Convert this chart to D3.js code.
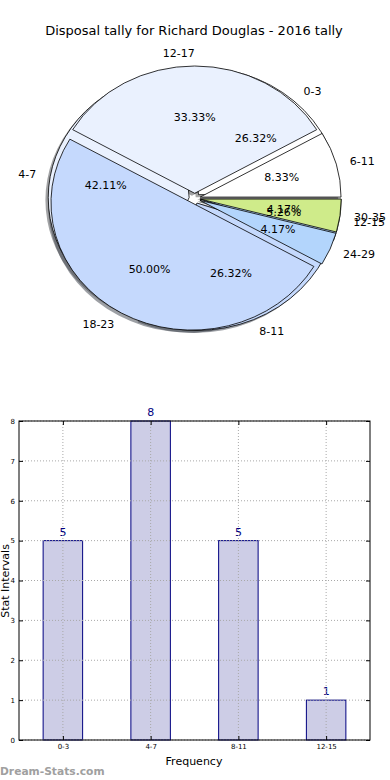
<!DOCTYPE html>
<html>
<head>
<meta charset="utf-8">
<script src="https://cdn.jsdelivr.net/npm/d3@7"></script>
<style>
  html, body { margin: 0; padding: 0; background: #fff; }
  svg { display: block; }
  text { font-family: 'DejaVu Sans', Arial, sans-serif; }
</style>
</head>
<body>
<div id="chart"></div>
<script>
// ── Data
const titleText = 'Disposal tally for Richard Douglas - 2016 tally';

// pie drawn first (same tally as the bars)
const pieLabelsA = ['0-3', '4-7', '8-11', '12-15'];
const pieValuesA = [5, 8, 5, 1];
const pieColorsA = ['#ffffff', '#eaf1fe', '#c5d9fd', '#b3d5fc'];

// pie drawn on top
const pieLabelsB = ['6-11', '12-17', '18-23', '24-29', '30-35'];
const pieValuesB = [2, 8, 12, 1, 1];
const pieColorsB = ['#ffffff', '#eaf1fe', '#c5d9fd', '#b3d5fc', '#cfeb8a'];

const barCats   = ['0-3', '4-7', '8-11', '12-15'];
const barValues = [5, 8, 5, 1];
const yTicks    = [0, 1, 2, 3, 4, 5, 6, 7, 8];

// ── Layout
const W = 390, H = 780;
const CX = 194.7, CY = 198.4, RX = 140.9, RY = 127.3;
const EXPLODE = 0.04;
const PCT_DIST = 0.6, LABEL_DIST = 1.1;
const BAR = { left: 19, right: 370, top: 421, bottom: 740 };

const svg = d3.select('#chart').append('svg')
  .attr('width', W).attr('height', H);

// title
svg.append('text')
  .attr('x', 194).attr('y', 35)
  .attr('text-anchor', 'middle')
  .attr('font-size', '13px')
  .attr('fill', '#000')
  .text(titleText);

// ── Pie helpers (matplotlib style: start at 3 o'clock, counter-clockwise)
const R = 100;
const arcGen = d3.arc().innerRadius(0).outerRadius(R);
const pieGen = d3.pie().sort(null).startAngle(Math.PI / 2).endAngle(Math.PI / 2 - 2 * Math.PI);

function wedgeInfo(values) {
  return pieGen(values).map(d => {
    const mid = (d.startAngle + d.endAngle) / 2;
    const ux = Math.sin(mid), uy = -Math.cos(mid);
    return { d, ux, uy, ox: CX + EXPLODE * RX * ux, oy: CY + EXPLODE * RY * uy };
  });
}

const wedgesA = wedgeInfo(pieValuesA);
const wedgesB = wedgeInfo(pieValuesB);

const pieG = svg.append('g');

function drawShadows(wedges, colors) {
  wedges.forEach((w, i) => {
    const c = d3.rgb(colors[i]);
    pieG.append('path')
      .attr('d', arcGen(w.d))
      .attr('transform', `translate(${w.ox - 0.02 * RX},${w.oy + 0.02 * RY}) scale(${RX / R},${RY / R})`)
      .attr('fill', d3.rgb(c.r * 0.3, c.g * 0.3, c.b * 0.3))
      .attr('fill-opacity', 0.5)
      .attr('stroke', 'none');
  });
}

function drawWedges(wedges, colors) {
  wedges.forEach((w, i) => {
    pieG.append('path')
      .attr('d', arcGen(w.d))
      .attr('transform', `translate(${w.ox},${w.oy}) scale(${RX / R},${RY / R})`)
      .attr('fill', colors[i])
      .attr('stroke', '#000')
      .attr('stroke-width', 0.8)
      .attr('vector-effect', 'non-scaling-stroke')
      .attr('stroke-linejoin', 'round');
  });
}

function drawTexts(wedges, labels, values) {
  const total = d3.sum(values);
  const fmt = d3.format('.2f');
  wedges.forEach((w, i) => {
    const lx = w.ox + LABEL_DIST * RX * w.ux;
    const ly = w.oy + LABEL_DIST * RY * w.uy;
    pieG.append('text')
      .attr('x', lx).attr('y', ly)
      .attr('dy', '0.35em')
      .attr('text-anchor', w.ux > 0.0001 ? 'start' : 'end')
      .attr('font-size', '11px')
      .attr('fill', '#000')
      .text(labels[i]);
    pieG.append('text')
      .attr('x', w.ox + PCT_DIST * RX * w.ux)
      .attr('y', w.oy + PCT_DIST * RY * w.uy)
      .attr('dy', '0.35em')
      .attr('text-anchor', 'middle')
      .attr('font-size', '11px')
      .attr('fill', '#000')
      .text(fmt(values[i] / total * 100) + '%');
  });
}

drawShadows(wedgesA, pieColorsA);
drawShadows(wedgesB, pieColorsB);
drawWedges(wedgesA, pieColorsA);
drawWedges(wedgesB, pieColorsB);
drawTexts(wedgesA, pieLabelsA, pieValuesA);
drawTexts(wedgesB, pieLabelsB, pieValuesB);

// ── Bar chart
const x = d3.scaleLinear().domain([-0.5, 3.5]).range([BAR.left, BAR.right]);
const y = d3.scaleLinear().domain([0, 8]).range([BAR.bottom, BAR.top]);
const barW = x(0.45) - x(0);

const barG = svg.append('g');

barG.selectAll('.bar')
  .data(barValues)
  .enter().append('rect')
  .attr('class', 'bar')
  .attr('x', (d, i) => x(i) - barW / 2)
  .attr('y', d => y(d))
  .attr('width', barW)
  .attr('height', d => y(0) - y(d))
  .attr('fill', '#cdcde6')
  .attr('stroke', '#000080')
  .attr('stroke-width', 1);

barG.selectAll('.val')
  .data(barValues)
  .enter().append('text')
  .attr('x', (d, i) => x(i))
  .attr('y', d => y(d) - 5)
  .attr('text-anchor', 'middle')
  .attr('font-size', '11px')
  .attr('fill', '#000080')
  .text(d => d);

// grid (drawn over the bars)
const gridG = barG.append('g')
  .attr('stroke', '#a8a8a8')
  .attr('stroke-width', 1)
  .attr('stroke-dasharray', '1,2');
yTicks.forEach(t => {
  gridG.append('line')
    .attr('x1', BAR.left).attr('x2', BAR.right)
    .attr('y1', y(t)).attr('y2', y(t));
});
barCats.forEach((c, i) => {
  gridG.append('line')
    .attr('x1', x(i)).attr('x2', x(i))
    .attr('y1', BAR.top).attr('y2', BAR.bottom);
});

// axes with inward ticks
const leftAxis = d3.axisLeft(y).tickValues(yTicks).tickSizeInner(-4).tickSizeOuter(0).tickPadding(4);
const rightAxis = d3.axisRight(y).tickValues(yTicks).tickSizeInner(-4).tickSizeOuter(0).tickFormat('');
const bottomAxis = d3.axisBottom(x).tickValues(d3.range(barCats.length))
  .tickFormat(i => barCats[i]).tickSizeInner(-4).tickSizeOuter(0).tickPadding(4);
const topAxis = d3.axisTop(x).tickValues(d3.range(barCats.length))
  .tickSizeInner(-4).tickSizeOuter(0).tickFormat('');

function styleAxis(g) {
  g.select('.domain').remove();
  g.selectAll('text').attr('font-family', "'DejaVu Sans', Arial, sans-serif").attr('font-size', '7px').attr('fill', '#000');
  g.selectAll('line').attr('stroke', '#000');
}

barG.append('g').attr('transform', `translate(${BAR.left},0)`).call(leftAxis).call(styleAxis);
barG.append('g').attr('transform', `translate(${BAR.right},0)`).call(rightAxis).call(styleAxis);
barG.append('g').attr('transform', `translate(0,${BAR.bottom})`).call(bottomAxis).call(styleAxis);
barG.append('g').attr('transform', `translate(0,${BAR.top})`).call(topAxis).call(styleAxis);

// frame
barG.append('rect')
  .attr('x', BAR.left).attr('y', BAR.top)
  .attr('width', BAR.right - BAR.left).attr('height', BAR.bottom - BAR.top)
  .attr('fill', 'none').attr('stroke', '#000').attr('stroke-width', 1);

// axis labels
svg.append('text')
  .attr('x', 194).attr('y', 765)
  .attr('text-anchor', 'middle')
  .attr('font-size', '11px')
  .attr('fill', '#000')
  .text('Frequency');

svg.append('text')
  .attr('transform', `translate(8.5,581) rotate(-90)`)
  .attr('text-anchor', 'middle')
  .attr('font-size', '11px')
  .attr('fill', '#000')
  .text('Stat Intervals');

// watermark
svg.append('text')
  .attr('x', 0).attr('y', 775)
  .attr('font-size', '10.7px')
  .attr('font-weight', 'bold')
  .attr('fill', '#a0a0a0')
  .text('Dream-Stats.com');
</script>
</body>
</html>
